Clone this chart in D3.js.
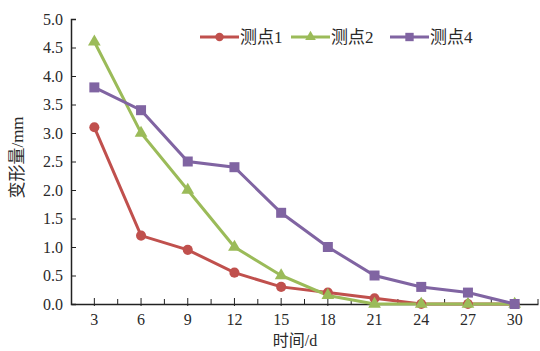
<!DOCTYPE html>
<html>
<head>
<meta charset="utf-8">
<script src="https://cdn.jsdelivr.net/npm/d3@7"></script>
<style>
  body { margin: 0; background: #fff; }
  svg { display: block; }
  text { font-family: "Liberation Serif", "Noto Sans CJK SC", serif; fill: #2a2a2a; }
</style>
</head>
<body>
<div id="chart"></div>
<script>
const days = [3, 6, 9, 12, 15, 18, 21, 24, 27, 30];
const point1 = [3.1, 1.2, 0.95, 0.55, 0.3, 0.2, 0.1, 0, 0, 0];
const point2 = [4.6, 3.0, 2.0, 1.0, 0.5, 0.15, 0, 0, 0, 0];
const point4 = [3.8, 3.4, 2.5, 2.4, 1.6, 1.0, 0.5, 0.3, 0.2, 0];
const yTicks = [0, 0.5, 1, 1.5, 2, 2.5, 3, 3.5, 4, 4.5, 5];
const seriesNames = ["测点1", "测点2", "测点4"];

const series = [
  {name: seriesNames[0], values: point1, color: "#c0504d", symbol: d3.symbolCircle, size: 80},
  {name: seriesNames[1], values: point2, color: "#9bbb59", symbol: d3.symbolTriangle, size: 70},
  {name: seriesNames[2], values: point4, color: "#8064a2", symbol: d3.symbolSquare, size: 100}
];

const width = 540, height = 351;
const margin = {top: 19, right: 2, bottom: 47, left: 71};
const innerW = width - margin.left - margin.right;
const innerH = height - margin.top - margin.bottom;

const svg = d3.select("#chart").append("svg")
    .attr("width", width).attr("height", height);
const g = svg.append("g")
    .attr("transform", `translate(${margin.left},${margin.top})`);

const x = d3.scaleBand().domain(days).range([0, innerW]);
const y = d3.scaleLinear().domain([0, 5]).range([innerH, 0]);

// y axis, ticks pointing inward
const yAxis = g.append("g")
    .call(d3.axisRight(y).tickValues(yTicks).tickSize(5).tickFormat(d3.format(".1f")));
yAxis.select(".domain").attr("stroke", "#222").attr("stroke-width", 1.5);
yAxis.selectAll(".tick line").attr("stroke", "#222");
yAxis.selectAll(".tick text")
    .attr("x", -8).attr("text-anchor", "end")
    .style("font-size", "16px");

// x axis
const xAxis = g.append("g")
    .attr("transform", `translate(0,${innerH})`)
    .call(d3.axisBottom(x).tickSize(0).tickPadding(10));
xAxis.select(".domain").attr("stroke", "#222").attr("stroke-width", 1.5);
xAxis.selectAll(".tick text").style("font-size", "16px");
xAxis.selectAll(".tick").append("line")
    .attr("y1", -6).attr("y2", 2).attr("stroke", "#222");
// minor ticks at band edges
g.append("g").selectAll("line")
    .data(days.slice(1).concat(["end"]))
    .join("line")
    .attr("x1", d => d === "end" ? innerW : x(d))
    .attr("x2", d => d === "end" ? innerW : x(d))
    .attr("y1", innerH - 5).attr("y2", innerH)
    .attr("stroke", "#222");

// axis titles
svg.append("text")
    .attr("x", 295).attr("y", 346)
    .attr("text-anchor", "middle")
    .style("font-size", "16px")
    .text("时间/d");
svg.append("text")
    .attr("transform", `translate(23,${margin.top + innerH / 2 - 4}) rotate(-90)`)
    .attr("text-anchor", "middle")
    .style("font-size", "17px")
    .text("变形量/mm");

// lines
const line = d3.line()
    .x((d, i) => x(days[i]) + x.bandwidth() / 2)
    .y(d => y(d));

series.forEach(s => {
  g.append("path")
      .datum(s.values)
      .attr("fill", "none")
      .attr("stroke", s.color)
      .attr("stroke-width", 3)
      .attr("d", line);
});
series.forEach(s => {
  g.append("g").selectAll("path")
      .data(s.values)
      .join("path")
      .attr("transform", (d, i) => `translate(${x(days[i]) + x.bandwidth() / 2},${y(d)})`)
      .attr("d", d3.symbol().type(s.symbol).size(s.size))
      .attr("fill", s.color);
});

// legend
const legendX = [200, 291, 390];
const legend = svg.append("g");
series.forEach((s, i) => {
  const lg = legend.append("g").attr("transform", `translate(${legendX[i]},37)`);
  lg.append("line").attr("x1", 0).attr("x2", 39)
      .attr("stroke", s.color).attr("stroke-width", 3);
  lg.append("path")
      .attr("transform", "translate(19.5,0)")
      .attr("d", d3.symbol().type(s.symbol).size(s.size * 0.7))
      .attr("fill", s.color);
  lg.append("text")
      .attr("x", 40).attr("y", 6)
      .style("font-size", "17px")
      .text(s.name);
});
</script>
</body>
</html>
